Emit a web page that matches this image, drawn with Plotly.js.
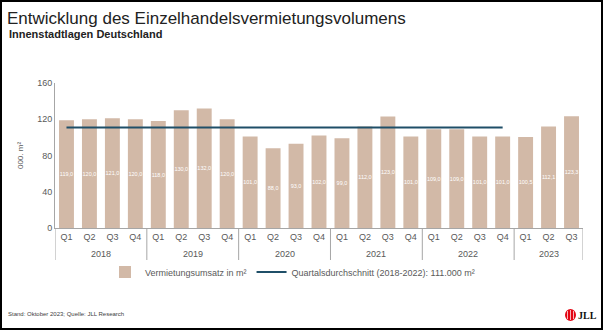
<!DOCTYPE html>
<html><head><meta charset="utf-8">
<script src="https://cdn.plot.ly/plotly-3.0.1.min.js"></script>
<style>
html,body{margin:0;padding:0;background:#fff;}
#wrap{position:relative;width:603px;height:330px;}
#chart{position:absolute;left:0;top:0;width:603px;height:330px;}
#frame{position:absolute;left:0;top:0;width:603px;height:330px;border:2px solid #000;box-sizing:border-box;pointer-events:none;z-index:10;}
</style></head>
<body><div id="wrap"><div id="chart"></div><div id="frame"></div></div>
<script>
const years = ["2018","2018","2018","2018","2019","2019","2019","2019","2020","2020","2020","2020","2021","2021","2021","2021","2022","2022","2022","2022","2023","2023","2023"];
const quarters = ["Q1","Q2","Q3","Q4","Q1","Q2","Q3","Q4","Q1","Q2","Q3","Q4","Q1","Q2","Q3","Q4","Q1","Q2","Q3","Q4","Q1","Q2","Q3"];
const volumes = [119.0,120.0,121.0,120.0,118.0,130.0,132.0,120.0,101.0,88.0,93.0,102.0,99.0,112.0,123.0,101.0,109.0,109.0,101.0,101.0,100.5,112.1,123.3];
const avgValue = 111;
const avgCount = 20; // 2018-2022
const seriesNames = ["Vermietungsumsatz in m²","Quartalsdurchschnitt (2018-2022): 111.000 m²"];
const yTicks = [0,40,80,120,160];

const cats = years.map((y, i) => y + ' ' + quarters[i]);
const labels = volumes.map(v => v.toFixed(1).replace('.', ','));
const avgX = cats.slice(0, avgCount);
const avgY = new Array(avgCount).fill(avgValue);

// year groups (derived from years array)
const groups = [];
years.forEach((y, i) => {
  const g = groups[groups.length - 1];
  if (g && g.year === y) g.end = i; else groups.push({year: y, start: i, end: i});
});

const PL = 55, PR = 583, PT = 83, PB = 228;
const px = x => (x - PL) / (PR - PL);
const py = y => (PB - y) / (PB - PT);

const traces = [
  {type:'bar', x:cats, y:volumes, name:seriesNames[0],
   marker:{color:'#d2b9a7'}, text:labels, textposition:'inside', insidetextanchor:'middle',
   constraintext:'none',
   textfont:{color:'#ffffff', size:5.5, family:'Liberation Sans'}, textangle:0, hoverinfo:'y'},
  {type:'scatter', mode:'lines', x:avgX, y:avgY, name:seriesNames[1],
   line:{color:'#1f4f68', width:2}}
];

const annotations = [
  {text:'<b>Innenstadtlagen Deutschland</b>', xref:'paper', yref:'paper', x:px(7), y:py(34),
   xanchor:'left', yanchor:'middle', showarrow:false,
   font:{size:11, color:'#222222', family:'Liberation Sans, Arial, sans-serif'}},
  {text:'Stand: Oktober 2023; Quelle: JLL Research', xref:'paper', yref:'paper', x:px(6), y:py(314),
   xanchor:'left', yanchor:'middle', showarrow:false,
   font:{size:6, color:'#404040'}},
  {text:'<b>JLL</b>', xref:'paper', yref:'paper', x:px(576), y:py(315),
   xanchor:'left', yanchor:'middle', showarrow:false,
   font:{size:10, color:'#111111', family:'Liberation Serif, serif'}}
];
const shapes = [
  {type:'circle', xref:'paper', yref:'paper', x0:px(565), x1:px(576), y0:py(321), y1:py(309),
   fillcolor:'#e30613', line:{color:'#e30613', width:0}},
  {type:'line', xref:'paper', yref:'paper', x0:px(567.5), x1:px(567.5), y0:py(319), y1:py(311), line:{color:'#ffffff', width:0.7}},
  {type:'line', xref:'paper', yref:'paper', x0:px(570.5), x1:px(570.5), y0:py(320), y1:py(310), line:{color:'#ffffff', width:0.7}},
  {type:'line', xref:'paper', yref:'paper', x0:px(573.5), x1:px(573.5), y0:py(319), y1:py(311), line:{color:'#ffffff', width:0.7}}
];
groups.forEach((g, k) => {
  annotations.push({text:g.year, xref:'x', yref:'paper', x:(g.start + g.end) / 2, y:py(254),
    xanchor:'center', yanchor:'middle', showarrow:false, font:{size:9, color:'#595959'}});
  if (k === 0) shapes.push({type:'line', xref:'x', yref:'paper', x0:g.start - 0.5, x1:g.start - 0.5,
    y0:0, y1:py(260), line:{color:'#a6a6a6', width:1}});
  shapes.push({type:'line', xref:'x', yref:'paper', x0:g.end + 0.5, x1:g.end + 0.5,
    y0:0, y1:py(260), line:{color:'#a6a6a6', width:1}});
});

const layout = {
  width:603, height:330,
  margin:{l:PL, r:603-PR, t:PT, b:330-PB},
  paper_bgcolor:'#ffffff', plot_bgcolor:'#ffffff',
  font:{family:'Liberation Sans, Arial, sans-serif', color:'#595959', size:9},
  title:{text:'Entwicklung des Einzelhandelsvermietungsvolumens', xref:'container', yref:'container',
         x:7/603, xanchor:'left', y:1-18/330, yanchor:'middle',
         font:{family:'Liberation Sans, Arial, sans-serif', size:17, color:'#222222'}},
  bargap:0.35,
  showlegend:true,
  legend:{orientation:'h', x:px(105), xanchor:'left', y:py(272), yanchor:'middle',
          font:{size:9, color:'#595959'}, bgcolor:'rgba(0,0,0,0)', traceorder:'normal'},
  xaxis:{type:'category', tickvals:cats, ticktext:quarters, showline:true, linecolor:'#a6a6a6', linewidth:1,
         tickfont:{size:9, color:'#595959'}, ticks:'', range:[-0.5, cats.length - 0.5], fixedrange:true},
  yaxis:{range:[0,160], tickvals:yTicks, showgrid:false, zeroline:false, showline:true,
         linecolor:'#a6a6a6', linewidth:1, ticks:'', tickfont:{size:9, color:'#595959'},
         title:{text:'000. m²', font:{size:8, color:'#595959'}, standoff:12}},
  annotations:annotations,
  shapes:shapes
};

Plotly.newPlot('chart', traces, layout, {displayModeBar:false, staticPlot:true});
</script></body></html>
